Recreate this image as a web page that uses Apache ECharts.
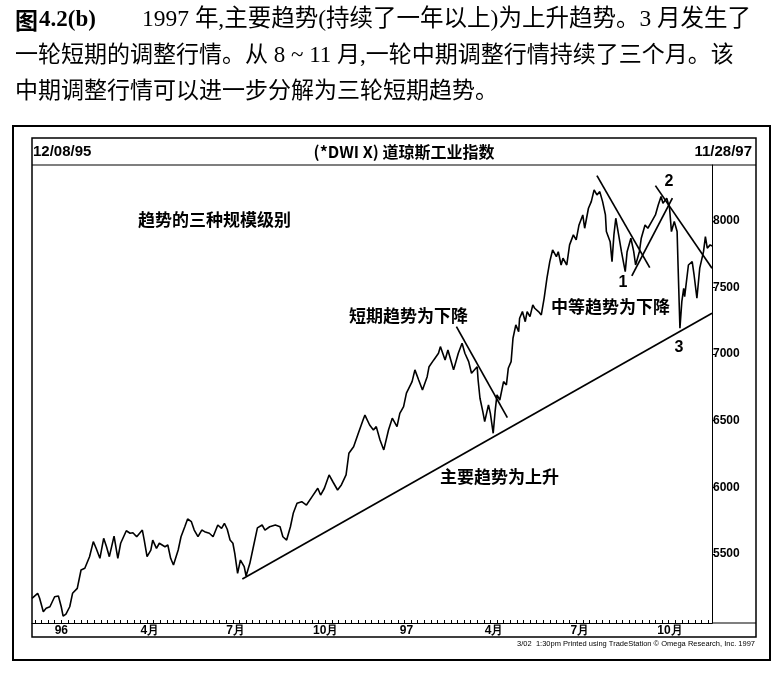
<!DOCTYPE html>
<html>
<head>
<meta charset="utf-8">
<script src="https://cdn.jsdelivr.net/npm/echarts/dist/echarts.min.js"></script>
<style>
  html, body { margin: 0; padding: 0; background: #fff; }
  #chart { width: 784px; height: 675px; }
</style>
</head>
<body>
<div id="chart" class="echart-dow-trends"></div>
<script>
// Dow Jones Industrials, 12/08/95 - 11/28/97
var dates = [
  '1995-12-08', '1995-12-14', '1995-12-16', '1995-12-20', '1995-12-23', '1995-12-27', '1995-12-29',
  '1996-01-01', '1996-01-05', '1996-01-08', '1996-01-10', '1996-01-13', '1996-01-17', '1996-01-20',
  '1996-01-25', '1996-01-29', '1996-02-02', '1996-02-07', '1996-02-11', '1996-02-14', '1996-02-18',
  '1996-02-22', '1996-02-25', '1996-02-28', '1996-03-04', '1996-03-06', '1996-03-08', '1996-03-11',
  '1996-03-17', '1996-03-21', '1996-03-24', '1996-03-28', '1996-04-03', '1996-04-05', '1996-04-08',
  '1996-04-12', '1996-04-14', '1996-04-18', '1996-04-21', '1996-04-27', '1996-04-30', '1996-05-03',
  '1996-05-06', '1996-05-11', '1996-05-14', '1996-05-18', '1996-05-21', '1996-05-25', '1996-05-28',
  '1996-06-01', '1996-06-05', '1996-06-08', '1996-06-13', '1996-06-17', '1996-06-22', '1996-06-26',
  '1996-06-29', '1996-07-02', '1996-07-05', '1996-07-08', '1996-07-10', '1996-07-13', '1996-07-16',
  '1996-07-20', '1996-07-22', '1996-07-26', '1996-07-29', '1996-08-03', '1996-08-08', '1996-08-11',
  '1996-08-16', '1996-08-22', '1996-08-27', '1996-08-30', '1996-09-03', '1996-09-07', '1996-09-10',
  '1996-09-14', '1996-09-19', '1996-09-24', '1996-09-30', '1996-10-06', '1996-10-09', '1996-10-13',
  '1996-10-18', '1996-10-22', '1996-10-27', '1996-10-31', '1996-11-05', '1996-11-08', '1996-11-13',
  '1996-11-18', '1996-11-23', '1996-11-25', '1996-11-30', '1996-12-04', '1996-12-07', '1996-12-11',
  '1996-12-15', '1996-12-20', '1996-12-24', '1996-12-29', '1997-01-01', '1997-01-05', '1997-01-08',
  '1997-01-14', '1997-01-17', '1997-01-21', '1997-01-25', '1997-01-30', '1997-02-01', '1997-02-06',
  '1997-02-11', '1997-02-13', '1997-02-18', '1997-02-21', '1997-02-25', '1997-02-27', '1997-03-04',
  '1997-03-08', '1997-03-11', '1997-03-15', '1997-03-18', '1997-03-24', '1997-03-25', '1997-03-27',
  '1997-03-30', '1997-04-01', '1997-04-05', '1997-04-07', '1997-04-10', '1997-04-12', '1997-04-14',
  '1997-04-17', '1997-04-21', '1997-04-24', '1997-04-26', '1997-04-29', '1997-05-01', '1997-05-04',
  '1997-05-07', '1997-05-08', '1997-05-11', '1997-05-14', '1997-05-16', '1997-05-19', '1997-05-22',
  '1997-05-24', '1997-05-28', '1997-05-31', '1997-06-03', '1997-06-06', '1997-06-09', '1997-06-12',
  '1997-06-16', '1997-06-18', '1997-06-21', '1997-06-23', '1997-06-27', '1997-06-30', '1997-07-04',
  '1997-07-07', '1997-07-10', '1997-07-14', '1997-07-16', '1997-07-20', '1997-07-23', '1997-07-26',
  '1997-07-29', '1997-08-01', '1997-08-04', '1997-08-07', '1997-08-08', '1997-08-12', '1997-08-14',
  '1997-08-16', '1997-08-18', '1997-08-21', '1997-08-24', '1997-08-28', '1997-08-30', '1997-09-03',
  '1997-09-06', '1997-09-08', '1997-09-12', '1997-09-14', '1997-09-18', '1997-09-21', '1997-09-25',
  '1997-09-29', '1997-10-02', '1997-10-05', '1997-10-07', '1997-10-11', '1997-10-14', '1997-10-16',
  '1997-10-19', '1997-10-22', '1997-10-23', '1997-10-25', '1997-10-27', '1997-10-29', '1997-10-30',
  '1997-11-03', '1997-11-07', '1997-11-09', '1997-11-12', '1997-11-15', '1997-11-19', '1997-11-21',
  '1997-11-23', '1997-11-26', '1997-11-28'
];
var closes = [
  5165, 5203, 5168, 5065, 5090, 5102, 5095,
  5177, 5183, 5102, 5032, 5047, 5102, 5203,
  5240, 5378, 5391, 5478, 5591, 5541, 5466,
  5616, 5553, 5478, 5633, 5628, 5466, 5579,
  5673, 5654, 5658, 5628, 5678, 5603, 5478,
  5528, 5603, 5541, 5579, 5553, 5566, 5466,
  5416, 5528, 5628, 5703, 5761, 5741, 5678,
  5628, 5678, 5666, 5654, 5628, 5716, 5691,
  5729, 5684, 5603, 5579, 5503, 5353, 5453,
  5403, 5333, 5428, 5528, 5694, 5716, 5678,
  5703, 5716, 5703, 5628, 5603, 5703, 5804,
  5879, 5891, 5866, 5929, 5992, 5941, 5992,
  6092, 6041, 5979, 6017, 6092, 6255, 6304,
  6405, 6505, 6542, 6467, 6430, 6455, 6355,
  6280, 6430, 6518, 6455, 6555, 6605, 6706,
  6793, 6881, 6805, 6730, 6830, 6905, 6956,
  7006, 7056, 6956, 7031, 6931, 6881, 7006,
  7081, 7006, 6943, 6856, 6905, 6805, 6668,
  6567, 6492, 6618, 6555, 6405, 6567, 6693,
  6655, 6793, 6768, 6893, 6943, 7119, 7219,
  7168, 7269, 7319, 7243, 7319, 7281, 7369,
  7344, 7319, 7294, 7419, 7570, 7694, 7782,
  7732, 7769, 7669, 7720, 7669, 7820, 7895,
  7857, 7970, 8045, 7945, 8095, 8145, 8233,
  8195, 8220, 8145, 8045, 7920, 7844, 7694,
  7895, 8020, 7895, 7769, 7619, 7769, 7870,
  7769, 7669, 7769, 7870, 7970, 7945, 7995,
  8045, 8120, 8183, 8133, 8171, 8095, 7920,
  7995, 7920, 7669, 7194, 7394, 7494, 7431,
  7669, 7694, 7594, 7419, 7645, 7769, 7882,
  7795, 7820, 7812
];

var quarterStarts = ['1996-01-01', '1996-04-01', '1996-07-01', '1996-10-01', '1997-01-01', '1997-04-01', '1997-07-01', '1997-10-01'];
var quarterLabels = ['96', '4月', '7月', '10月', '97', '4月', '7月', '10月'];
var priceTicks = [5500, 6000, 6500, 7000, 7500, 8000];

// trendlines drawn on the page, as [date, index level] end points
var primaryTrend = [['1996-07-18', 5310], ['1997-11-28', 7307]];
var marchTrend = [['1997-03-02', 7206], ['1997-04-25', 6522]];
var augustTrend = [['1997-07-29', 8340], ['1997-09-23', 7649]];
var septemberTrend = [['1997-09-04', 7587], ['1997-10-17', 8171]];
var octoberTrend = [['1997-09-29', 8265], ['1997-11-28', 7645]];

var toTime = function(s) {
  var p = s.split('-');
  return new Date(+p[0], +p[1] - 1, +p[2]).getTime();
};

var echartDowTrendsInit = function() {
  var $chartEl = document.querySelector('.echart-dow-trends');
  if (!$chartEl) return;
  var chart = window.echarts.init($chartEl);

  var quarterTimes = quarterStarts.map(toTime);
  var weekTicks = [];
  for (var t = toTime('1995-12-11'); t <= toTime('1997-11-28'); t += 7 * 86400000) {
    weekTicks.push(t);
  }

  var trendSeries = function(points) {
    return {
      type: 'line',
      data: points.map(function(p) { return [toTime(p[0]), p[1]]; }),
      symbol: 'none',
      silent: true,
      lineStyle: { color: '#000', width: 1.7 }
    };
  };

  var text = function(str, x, y, size, opts) {
    opts = opts || {};
    return {
      type: 'text',
      x: x,
      y: y,
      silent: true,
      style: {
        text: str,
        fill: '#000',
        fontSize: size,
        fontFamily: opts.family || '"Noto Sans CJK SC", sans-serif',
        fontWeight: opts.weight || 'normal',
        textAlign: opts.align || 'left',
        textVerticalAlign: 'middle'
      }
    };
  };

  var latin = '"Liberation Sans", Arial, sans-serif';
  var narrow = '"Liberation Sans Narrow", "Liberation Sans", Arial, sans-serif';
  var caption = '"Liberation Serif", "Noto Sans CJK SC", serif';

  var options = {
    animation: false,
    backgroundColor: '#fff',
    grid: { left: 32, right: 72, top: 165, bottom: 52, containLabel: false },
    xAxis: {
      type: 'value',
      min: toTime('1995-12-08'),
      max: toTime('1997-11-28'),
      axisLine: { show: true, lineStyle: { color: '#000', width: 1.2 } },
      axisTick: {
        show: true,
        inside: true,
        length: 3,
        customValues: weekTicks,
        lineStyle: { color: '#000', width: 1 }
      },
      axisLabel: {
        customValues: quarterTimes,
        align: 'left',
        margin: 2,
        color: '#000',
        fontSize: 12,
        fontWeight: 'bold',
        fontFamily: narrow,
        formatter: function(value) {
          var i = quarterTimes.indexOf(value);
          return i >= 0 ? quarterLabels[i] : '';
        }
      },
      splitLine: { show: false }
    },
    yAxis: {
      type: 'value',
      position: 'right',
      min: 4980,
      max: 8420,
      axisLine: { show: true, lineStyle: { color: '#000', width: 1 } },
      axisTick: {
        show: true,
        length: 3,
        customValues: priceTicks,
        lineStyle: { color: '#000', width: 1 }
      },
      axisLabel: {
        customValues: priceTicks,
        margin: 1,
        color: '#000',
        fontSize: 12,
        fontWeight: 'bold',
        fontFamily: narrow,
        formatter: function(value) { return String(value); }
      },
      splitLine: { show: false }
    },
    series: [
      {
        name: 'DJIA',
        type: 'line',
        data: dates.map(function(d, i) { return [toTime(d), closes[i]]; }),
        showSymbol: false,
        silent: true,
        lineStyle: { color: '#000', width: 1.6 }
      },
      trendSeries(primaryTrend),
      trendSeries(marchTrend),
      trendSeries(augustTrend),
      trendSeries(septemberTrend),
      trendSeries(octoberTrend)
    ],
    graphic: [
      // caption above the figure
      text('图', 15, 20, 23, { weight: 'bold' }),
      text('4.2(b)', 39, 20, 23, { family: caption, weight: 'bold' }),
      text('1997 年,主要趋势(持续了一年以上)为上升趋势。3 月发生了', 142, 20, 23.5, { family: caption }),
      text('一轮短期的调整行情。从 8 ~ 11 月,一轮中期调整行情持续了三个月。该', 15, 56, 23, { family: caption }),
      text('中期调整行情可以进一步分解为三轮短期趋势。', 15, 92, 23, { family: caption }),
      // frames
      { type: 'rect', silent: true, shape: { x: 13, y: 126, width: 757, height: 534 },
        style: { fill: 'none', stroke: '#000', lineWidth: 2 } },
      { type: 'rect', silent: true, shape: { x: 32, y: 138, width: 724, height: 499 },
        style: { fill: 'none', stroke: '#000', lineWidth: 1.5 } },
      { type: 'line', silent: true, shape: { x1: 32, y1: 165, x2: 756, y2: 165 },
        style: { stroke: '#000', lineWidth: 1.2 } },
      { type: 'line', silent: true, shape: { x1: 712, y1: 623, x2: 756, y2: 623 },
        style: { stroke: '#000', lineWidth: 1.2 } },
      // header
      text('12/08/95', 33, 152, 15, { family: latin, weight: 'bold' }),
      text('(*DWI X) 道琼斯工业指数', 404, 152, 16, { weight: 'bold', align: 'center' }),
      text('11/28/97', 752, 152, 15, { family: latin, weight: 'bold', align: 'right' }),
      // annotations
      text('趋势的三种规模级别', 138, 220, 17, { weight: 'bold' }),
      text('短期趋势为下降', 349, 316, 17, { weight: 'bold' }),
      text('中等趋势为下降', 551, 307, 17, { weight: 'bold' }),
      text('主要趋势为上升', 440, 477, 17, { weight: 'bold' }),
      text('1', 623, 283, 16, { family: latin, weight: 'bold', align: 'center' }),
      text('2', 669, 182, 16, { family: latin, weight: 'bold', align: 'center' }),
      text('3', 679, 348, 16, { family: latin, weight: 'bold', align: 'center' }),
      // footer
      text('3/02  1:30pm Printed using TradeStation \u00a9 Omega Research, Inc. 1997', 755, 644, 7.5,
        { family: narrow, align: 'right' })
    ]
  };
  chart.setOption(options);
  window.dowTrendsChart = chart;
};

echartDowTrendsInit();
</script>
</body>
</html>
